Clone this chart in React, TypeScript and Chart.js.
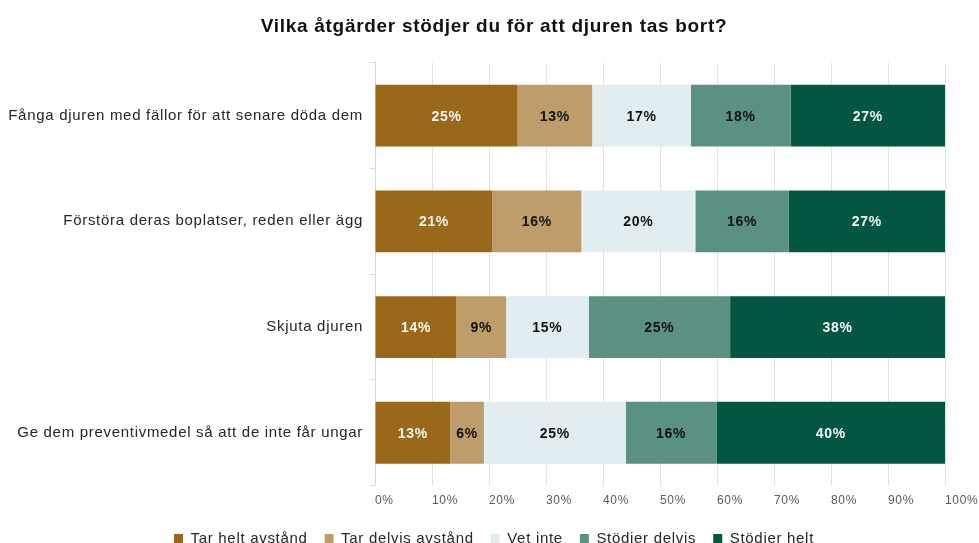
import React, { useEffect, useRef } from "react";
import { Chart, registerables } from "chart.js";

Chart.register(...registerables);

const title = "Vilka åtgärder stödjer du för att djuren tas bort?";

const categories = [
  "Fånga djuren med fällor för att senare döda dem",
  "Förstöra deras boplatser, reden eller ägg",
  "Skjuta djuren",
  "Ge dem preventivmedel så att de inte får ungar",
];

const seriesNames = [
  "Tar helt avstånd",
  "Tar delvis avstånd",
  "Vet inte",
  "Stödjer delvis",
  "Stödjer helt",
];

const tarHeltAvstand = [25.0, 20.6, 14.3, 13.2];
const tarDelvisAvstand = [13.1, 15.6, 8.7, 5.9];
const vetInte = [17.3, 20.0, 14.5, 24.9];
const stodjerDelvis = [17.5, 16.4, 24.8, 15.9];
const stodjerHelt = [27.1, 27.4, 37.7, 40.1];

const seriesValues = [tarHeltAvstand, tarDelvisAvstand, vetInte, stodjerDelvis, stodjerHelt];

const seriesColors = ["#996819", "#BE9D6A", "#E2EDF1", "#5A9182", "#035642"];
const labelColors = ["#F5F5F5", "#111111", "#111111", "#111111", "#F5F5F5"];

const xTickValues = [0, 10, 20, 30, 40, 50, 60, 70, 80, 90, 100];

const FONT = "'Liberation Sans', Arial, Helvetica, sans-serif";
const SPACING = "0.7px";

const spacingPlugin = {
  id: "letterSpacing",
  beforeUpdate(chart: any) {
    chart.ctx.letterSpacing = SPACING;
  },
  beforeLayout(chart: any) {
    chart.ctx.letterSpacing = SPACING;
  },
  beforeDraw(chart: any) {
    chart.ctx.letterSpacing = SPACING;
  },
};

const barLabelPlugin = {
  id: "barLabels",
  afterDatasetsDraw(chart: any) {
    const ctx = chart.ctx;
    ctx.save();
    ctx.letterSpacing = SPACING;
    ctx.font = `bold 14px ${FONT}`;
    ctx.textAlign = "center";
    ctx.textBaseline = "middle";
    chart.data.datasets.forEach((ds: any, i: number) => {
      const meta = chart.getDatasetMeta(i);
      meta.data.forEach((el: any, j: number) => {
        const v = ds.data[j];
        const cx = (el.x + el.base) / 2;
        ctx.fillStyle = labelColors[i];
        ctx.fillText(Math.round(v) + "%", cx, el.y + 1);
      });
    });
    ctx.restore();
  },
};

export default function App() {
  const ref = useRef<HTMLCanvasElement | null>(null);

  useEffect(() => {
    if (!ref.current) return;
    Chart.defaults.font.family = FONT;
    const chart = new Chart(ref.current, {
      type: "bar",
      data: {
        labels: categories,
        datasets: seriesNames.map((name, i) => ({
          label: name,
          data: seriesValues[i],
          backgroundColor: seriesColors[i],
          borderWidth: 0,
          barPercentage: 0.585,
          categoryPercentage: 1,
        })),
      },
      options: {
        indexAxis: "y",
        responsive: false,
        animation: false,
        devicePixelRatio: 1,
        layout: { padding: { left: 9, right: 0, top: 0, bottom: 0 } },
        plugins: {
          title: {
            display: true,
            text: title,
            color: "#111111",
            font: { size: 19, weight: "bold", family: FONT },
            padding: { top: 15, bottom: 25 },
          },
          legend: {
            display: true,
            position: "bottom",
            labels: {
              boxWidth: 9,
              boxHeight: 9,
              padding: 17,
              color: "#262626",
              font: { size: 15, family: FONT },
            },
          },
          tooltip: { enabled: false },
        },
        scales: {
          x: {
            stacked: true,
            min: 0,
            max: 100,
            afterBuildTicks: (s: any) => {
              s.ticks = xTickValues.map((v) => ({ value: v }));
            },
            afterFit: (s: any) => {
              s.height -= 2;
              s.paddingRight = 34;
            },
            grid: { color: "#E2E2E2", lineWidth: 1, drawTicks: false },
            border: { display: false },
            ticks: {
              align: "start",
              padding: 8,
              color: "#595959",
              font: { size: 12, family: FONT },
              callback: (v: any) => v + "%",
            },
          },
          y: {
            stacked: true,
            afterFit: (s: any) => {
              s.width = 366;
            },
            grid: {
              drawOnChartArea: false,
              drawTicks: true,
              tickLength: 5,
              color: "#D9D9D9",
              offset: true,
            },
            border: { display: true, color: "#D9D9D9" },
            ticks: {
              padding: 7,
              color: "#262626",
              font: { size: 15, family: FONT },
            },
          },
        },
      } as any,
      plugins: [spacingPlugin, barLabelPlugin],
    });
    return () => chart.destroy();
  }, []);

  return (
    <div
      style={{
        position: "fixed",
        left: 0,
        top: 0,
        width: 979,
        height: 543,
        overflow: "hidden",
        background: "#ffffff",
      }}
    >
      <canvas ref={ref} width={979} height={556} style={{ display: "block" }} />
    </div>
  );
}
